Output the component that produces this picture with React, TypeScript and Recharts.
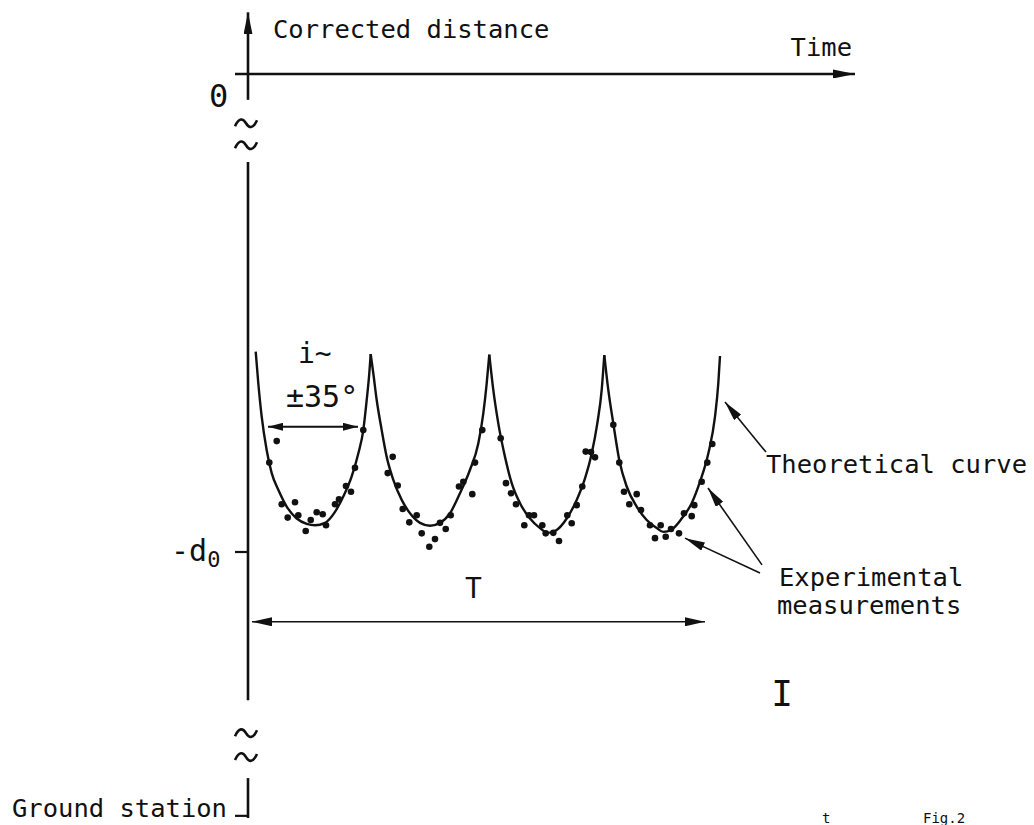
import React from "react";
import {
  ComposedChart,
  Line,
  Scatter,
  XAxis,
  YAxis,
  ReferenceLine,
  ReferenceDot,
} from "recharts";

// time in arbitrary units (t), corrected distance in units where -d0 = -100 (v)
const D0 = -100;

// theoretical curve, one arch per pass between two cusps
const arch1 = [
  { t: 0.77, v: -58.1 }, { t: 1.03, v: -64.7 }, { t: 1.37, v: -71.7 },
  { t: 1.87, v: -78.7 }, { t: 2.37, v: -83.5 }, { t: 3.03, v: -87.0 },
  { t: 3.87, v: -90.5 }, { t: 4.87, v: -93.0 }, { t: 5.87, v: -94.1 },
  { t: 6.7, v: -94.4 }, { t: 7.7, v: -93.9 }, { t: 8.7, v: -91.6 },
  { t: 9.53, v: -88.4 }, { t: 10.37, v: -84.2 }, { t: 11.03, v: -79.4 },
  { t: 11.53, v: -74.5 }, { t: 11.87, v: -68.2 }, { t: 12.13, v: -62.6 },
  { t: 12.27, v: -58.6 },
];
const arch2 = [
  { t: 12.27, v: -58.6 }, { t: 12.53, v: -62.6 }, { t: 12.87, v: -68.2 },
  { t: 13.37, v: -74.5 }, { t: 13.87, v: -80.1 }, { t: 14.53, v: -84.9 },
  { t: 15.37, v: -89.1 }, { t: 16.2, v: -91.9 }, { t: 17.2, v: -93.9 },
  { t: 18.2, v: -94.5 }, { t: 19.2, v: -93.9 }, { t: 20.2, v: -91.9 },
  { t: 21.2, v: -87.7 }, { t: 22.2, v: -82.8 }, { t: 23.03, v: -77.3 },
  { t: 23.53, v: -71.0 }, { t: 23.87, v: -64.7 }, { t: 24.13, v: -58.7 },
];
const arch3 = [
  { t: 24.13, v: -58.7 }, { t: 24.53, v: -66.1 }, { t: 25.03, v: -73.1 },
  { t: 25.7, v: -80.1 }, { t: 26.37, v: -85.6 }, { t: 27.2, v: -89.8 },
  { t: 28.2, v: -93.0 }, { t: 29.2, v: -95.0 }, { t: 30.03, v: -96.0 },
  { t: 30.87, v: -95.4 }, { t: 31.87, v: -93.0 }, { t: 32.87, v: -89.1 },
  { t: 33.7, v: -84.6 }, { t: 34.37, v: -79.4 }, { t: 34.93, v: -73.1 },
  { t: 35.37, v: -66.1 }, { t: 35.63, v: -58.8 },
];
const arch4 = [
  { t: 35.63, v: -58.8 }, { t: 36.03, v: -66.1 }, { t: 36.53, v: -73.1 },
  { t: 37.13, v: -80.8 }, { t: 37.87, v: -86.3 }, { t: 38.87, v: -90.5 },
  { t: 39.87, v: -93.3 }, { t: 40.87, v: -95.0 }, { t: 41.53, v: -95.8 },
  { t: 42.37, v: -95.3 }, { t: 43.37, v: -93.0 }, { t: 44.37, v: -89.8 },
  { t: 45.2, v: -85.3 }, { t: 46.03, v: -79.4 }, { t: 46.7, v: -71.7 },
  { t: 47.03, v: -64.7 }, { t: 47.2, v: -59.0 },
];

// experimental measurements
const measurements = [
  { t: 2.87, v: -76.8 }, { t: 2.13, v: -81.3 }, { t: 3.37, v: -90.0 },
  { t: 4.7, v: -89.6 }, { t: 3.97, v: -92.8 }, { t: 5.03, v: -92.3 },
  { t: 5.77, v: -95.6 }, { t: 6.27, v: -93.3 }, { t: 6.87, v: -91.7 },
  { t: 7.47, v: -92.1 }, { t: 7.8, v: -94.4 }, { t: 8.7, v: -90.0 },
  { t: 9.1, v: -89.0 }, { t: 9.8, v: -86.2 }, { t: 10.3, v: -87.4 },
  { t: 10.7, v: -82.4 }, { t: 11.53, v: -74.5 },
  { t: 14.47, v: -80.1 }, { t: 13.97, v: -83.5 }, { t: 14.97, v: -86.1 },
  { t: 15.47, v: -91.0 }, { t: 16.13, v: -93.8 }, { t: 16.87, v: -92.3 },
  { t: 17.37, v: -96.1 }, { t: 18.7, v: -97.3 }, { t: 18.13, v: -98.9 },
  { t: 19.2, v: -93.9 }, { t: 19.77, v: -95.2 }, { t: 20.27, v: -92.3 },
  { t: 21.1, v: -86.3 }, { t: 21.53, v: -85.3 }, { t: 22.43, v: -87.9 },
  { t: 22.7, v: -81.3 }, { t: 23.43, v: -74.5 },
  { t: 25.27, v: -76.2 }, { t: 25.8, v: -85.6 }, { t: 26.3, v: -87.7 },
  { t: 26.8, v: -90.0 }, { t: 28.1, v: -92.3 }, { t: 28.6, v: -92.3 },
  { t: 27.63, v: -94.4 }, { t: 29.43, v: -94.4 }, { t: 29.77, v: -96.1 },
  { t: 30.53, v: -96.0 }, { t: 31.1, v: -97.7 }, { t: 31.93, v: -92.3 },
  { t: 32.37, v: -94.0 }, { t: 32.87, v: -90.2 }, { t: 33.43, v: -86.3 },
  { t: 33.77, v: -79.0 }, { t: 34.3, v: -79.1 }, { t: 34.7, v: -80.2 },
  { t: 36.53, v: -73.4 }, { t: 37.13, v: -81.3 }, { t: 37.6, v: -87.4 },
  { t: 38.87, v: -87.9 }, { t: 38.13, v: -90.0 }, { t: 39.3, v: -91.2 },
  { t: 40.2, v: -94.4 }, { t: 41.27, v: -94.4 }, { t: 40.7, v: -97.1 },
  { t: 41.77, v: -96.8 }, { t: 42.3, v: -95.2 }, { t: 43.1, v: -96.1 },
  { t: 43.6, v: -91.9 }, { t: 44.37, v: -92.5 }, { t: 44.63, v: -90.2 },
  { t: 45.37, v: -85.3 }, { t: 45.93, v: -81.3 }, { t: 46.43, v: -77.4 },
];

const FONT = "'DejaVu Sans Mono', 'Liberation Mono', monospace";
const INK = "#111";

const note = (
  key: string,
  t: number,
  v: number,
  text: React.ReactNode,
  size = 25.5,
  anchor: "start" | "middle" | "end" = "start"
) => (
  <ReferenceDot
    key={key}
    x={t}
    y={v}
    r={0}
    ifOverflow="visible"
    shape={(p: any) => (
      <text
        x={p.cx}
        y={p.cy}
        fontFamily={FONT}
        fontSize={size}
        textAnchor={anchor}
        fill={INK}
      >
        {text}
      </text>
    )}
  />
);

const tilde = (key: string, t: number, v: number) => (
  <ReferenceDot
    key={key}
    x={t}
    y={v}
    r={0}
    ifOverflow="visible"
    shape={(p: any) => (
      <path
        d={`M${p.cx - 11},${p.cy + 3} C${p.cx - 7},${p.cy - 6} ${p.cx - 3},${p.cy - 5} ${p.cx},${p.cy} C${p.cx + 3},${p.cy + 5} ${p.cx + 7},${p.cy + 6} ${p.cx + 11},${p.cy - 3}`}
        fill="none"
        stroke={INK}
        strokeWidth={2.6}
      />
    )}
  />
);

const seg = (
  key: string,
  a: [number, number],
  b: [number, number],
  width = 2.5,
  head?: string,
  both = false
) => (
  <ReferenceLine
    key={key}
    segment={[
      { x: a[0], y: a[1] },
      { x: b[0], y: b[1] },
    ]}
    stroke={INK}
    strokeWidth={width}
    ifOverflow="visible"
    markerEnd={head ? `url(#${head})` : undefined}
    markerStart={head && both ? `url(#${head})` : undefined}
  />
);

export default function App() {
  return (
    <div style={{ position: "absolute", left: 0, top: 0, background: "#fff" }}>
      <ComposedChart
        width={1034}
        height={825}
        margin={{ top: 12, right: 179, bottom: 7, left: 228 }}
      >
        <defs>
          <marker
            id="axisHead"
            viewBox="0 0 22 9"
            refX="22"
            refY="4.5"
            markerWidth="22"
            markerHeight="9"
            markerUnits="userSpaceOnUse"
            orient="auto-start-reverse"
          >
            <path d="M0,0 L22,4.5 L0,9 Z" fill={INK} />
          </marker>
          <marker
            id="head"
            viewBox="0 0 20 9"
            refX="20"
            refY="4.5"
            markerWidth="20"
            markerHeight="9"
            markerUnits="userSpaceOnUse"
            orient="auto-start-reverse"
          >
            <path d="M0,0 L20,4.5 L0,9 Z" fill={INK} />
          </marker>
          <marker
            id="smallHead"
            viewBox="0 0 15 8"
            refX="15"
            refY="4"
            markerWidth="15"
            markerHeight="8"
            markerUnits="userSpaceOnUse"
            orient="auto-start-reverse"
          >
            <path d="M0,0 L15,4 L0,8 Z" fill={INK} />
          </marker>
        </defs>
        <XAxis type="number" dataKey="t" domain={[-2, 60.7]} hide allowDataOverflow />
        <YAxis type="number" dataKey="v" domain={[-155.65, 12.97]} hide allowDataOverflow />

        {/* axes */}
        {seg("time", [-1.3, 0], [60.7, 0], 2.6, "axisHead")}
        {seg("distTop", [0, -5.4], [0, 12.9], 2.6, "axisHead")}
        {seg("distMid", [0, -18.4], [0, -131.0], 2.6)}
        {seg("distLow", [0, -147.3], [0, -155.65], 2.6)}
        {seg("d0Tick", [-1.3, D0], [0, D0], 2.2)}
        {seg("groundTick", [-1.3, -155.2], [0, -155.2], 2.2)}
        {tilde("b1", -0.2, -10.3)}
        {tilde("b2", -0.2, -14.9)}
        {tilde("b3", -0.2, -137.9)}
        {tilde("b4", -0.2, -142.9)}

        {/* series */}
        {[arch1, arch2, arch3, arch4].map((arch, i) => (
          <Line
            key={`arch${i}`}
            data={arch}
            dataKey="v"
            type="monotone"
            stroke={INK}
            strokeWidth={2.4}
            dot={false}
            activeDot={false}
            isAnimationActive={false}
          />
        ))}
        <Scatter
          data={measurements}
          dataKey="v"
          isAnimationActive={false}
          shape={(p: any) => <circle cx={p.cx} cy={p.cy} r={3.3} fill={INK} />}
        />

        {/* annotations */}
        {seg("incl", [2.0, -73.8], [11.0, -73.8], 1.8, "smallHead", true)}
        {seg("period", [0.4, -114.6], [45.7, -114.6], 1.6, "head", true)}
        {seg("theo", [51.8, -79.1], [47.7, -68.6], 1.6, "head")}
        {seg("exp1", [51.4, -102.7], [46.0, -86.6], 1.6, "head")}
        {seg("exp2", [51.2, -104.4], [43.7, -97.1], 1.6, "head")}

        {note("yTitle", 2.5, 7.5, "Corrected distance")}
        {note("xTitle", 60.4, 3.8, "Time", 25.5, "end")}
        {note("zero", -3.9, -6.9, "0", 32)}
        {note(
          "d0",
          -7.7,
          -101.9,
          <>
            -d
            <tspan fontSize={22} dy={6}>
              0
            </tspan>
          </>,
          30
        )}
        {note("i", 5.0, -60.5, "i~", 28)}
        {note("angle", 3.8, -69.7, "±35°", 30)}
        {note("T", 21.7, -109.6, "T", 28)}
        {note("theoLabel", 51.8, -83.5, "Theoretical curve")}
        {note("expLabel1", 53.1, -107.1, "Experimental")}
        {note("expLabel2", 52.9, -113.0, "measurements")}
        {note("I", 53.4, -132.2, "I", 36, "middle")}
        {note("ground", -23.6, -155.4, "Ground station")}
        {note("figT", 57.4, -156.7, "t", 14)}
        {note("fig", 67.5, -156.7, "Fig.2", 14)}
      </ComposedChart>
    </div>
  );
}
